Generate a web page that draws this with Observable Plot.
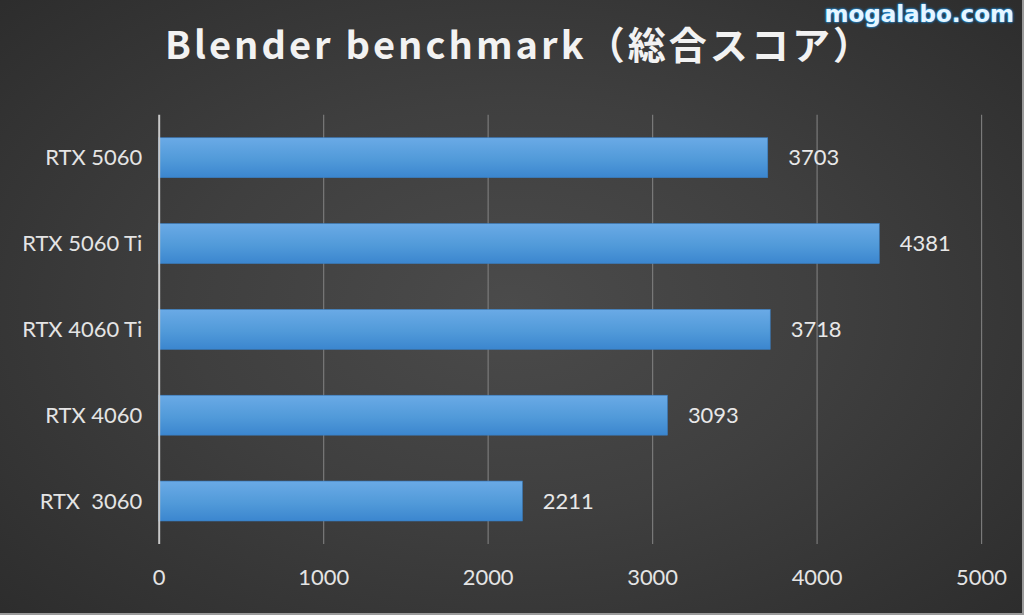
<!DOCTYPE html>
<html>
<head>
<meta charset="utf-8">
<script src="https://cdn.jsdelivr.net/npm/d3@7"></script>
<script src="https://cdn.jsdelivr.net/npm/@observablehq/plot@0.6"></script>
<style>
  html, body { margin: 0; padding: 0; background: #333; }
  #wrap {
    position: relative; width: 1024px; height: 615px; overflow: hidden;
    background: radial-gradient(ellipse 70% 75% at 50% 50%, #4b4b4b 0%, #3f3f3f 45%, #2c2c2c 100%);
    box-sizing: border-box; border-right: 2px solid #9a9a9a; border-bottom: 2px solid #9a9a9a;
  }
  #title {
    position: absolute; left: 165px; top: 23px; white-space: nowrap;
    font-family: "Noto Sans CJK JP", "Noto Sans", sans-serif; font-weight: 700;
    font-size: 38px; color: #f2f2f2; letter-spacing: 4px; line-height: 40px;
  }
  #mark {
    position: absolute; right: 8px; top: 1px;
    font-family: "DejaVu Sans", sans-serif; font-weight: 700; font-size: 23px;
    color: #e6f6ff; letter-spacing: 0px;
    text-shadow: 0 0 3px #1c8fe0, 0 0 2px #1c8fe0, 0 0 1px #1c8fe0;
  }
  #chart { position: absolute; left: 0; top: 0; }
</style>
</head>
<body>
<div id="wrap">
  <div id="title">Blender benchmark（総合スコア）</div>
  <div id="mark">mogalabo.com</div>
  <div id="chart"></div>
</div>
<script>
const gpus = ["RTX 5060", "RTX 5060 Ti", "RTX 4060 Ti", "RTX 4060", "RTX  3060"];
const scores = [3703, 4381, 3718, 3093, 2211];
const xTicks = [0, 1000, 2000, 3000, 4000, 5000];

const data = gpus.map((g, i) => ({gpu: g, score: scores[i]}));
const gridTicks = xTicks.filter(t => t > 0);

const plot = Plot.plot({
  width: 1024,
  height: 615,
  marginTop: 115,
  marginBottom: 70,
  marginLeft: 159,
  marginRight: 41,
  style: {background: "transparent", fontFamily: "Lato, 'Open Sans', sans-serif", fontSize: "22px", color: "#e4e4e4"},
  x: {domain: [0, 5000], ticks: xTicks, tickFormat: d => String(d), label: null},
  y: {domain: gpus, paddingInner: 0.535, paddingOuter: 0.2675, label: null},
  marks: [
    Plot.ruleX(gridTicks, {stroke: "#7a7a7a", strokeWidth: 1.2}),
    Plot.barX(data, {x: "score", y: "gpu", fill: "url(#barGrad)", stroke: "#3a7fc4", strokeWidth: 0.6,
      style: "filter: drop-shadow(2px 3px 2px rgba(0,0,0,0.55));"}),
    Plot.ruleX([0], {stroke: "#c8c8c8", strokeWidth: 2}),
    Plot.text(data, {x: "score", y: "gpu", text: d => String(d.score), textAnchor: "start", dx: 20,
      fill: "#e8e8e8", fontSize: 22}),
    Plot.axisX({ticks: xTicks, tickSize: 0, tickPadding: 25, fontSize: 22, color: "#e4e4e4", tickFormat: d => String(d), label: null}),
    Plot.axisY({tickSize: 0, tickPadding: 17, fontSize: 22, color: "#e4e4e4", label: null})
  ]
});

const ns = "http://www.w3.org/2000/svg";
const defs = document.createElementNS(ns, "defs");
defs.innerHTML = `<linearGradient id="barGrad" x1="0" y1="0" x2="0" y2="1">
  <stop offset="0%" stop-color="#6aaae6"/>
  <stop offset="55%" stop-color="#519ad9"/>
  <stop offset="100%" stop-color="#3b86cf"/>
</linearGradient>`;
plot.insertBefore(defs, plot.firstChild);
document.getElementById("chart").appendChild(plot);

// fit title so its closing paren's ink ends near x = 850 as in the reference
const t = document.getElementById("title");
const n = t.textContent.length;
const w0 = t.getBoundingClientRect().width - 4;
const ls = 4 + (706 - w0) / (n - 1);
t.style.letterSpacing = ls + "px";
</script>
</body>
</html>
